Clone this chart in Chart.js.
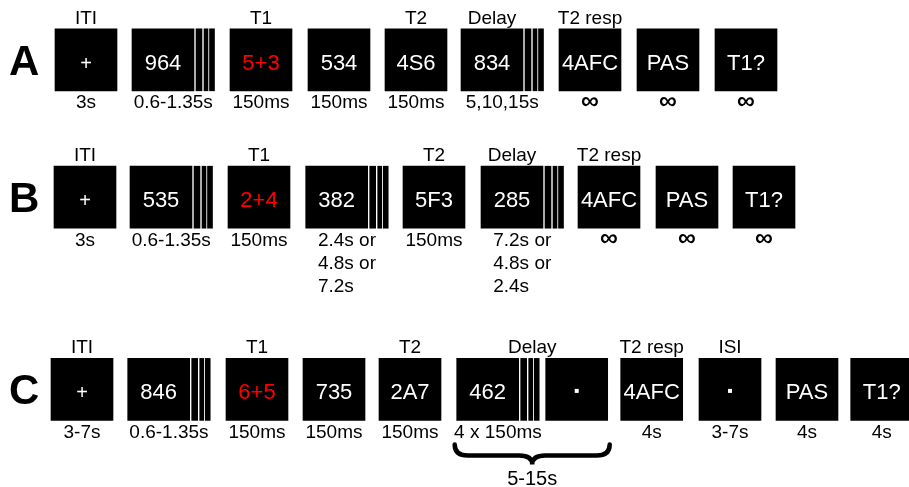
<!DOCTYPE html>
<html>
<head>
<meta charset="utf-8">
<script src="https://cdn.jsdelivr.net/npm/chart.js@4.4.1/dist/chart.umd.min.js"></script>
<style>
  html, body { margin: 0; padding: 0; background: #fff; }
  #wrap { width: 909px; height: 487px; }
</style>
</head>
<body>
<div id="wrap"><canvas id="trial" width="909" height="487"></canvas></div>
<script>
/* ===== DATA ===== */
const ROWS = ["A", "B", "C"];
const ROW_Y = [59.8, 197.2, 389.4];

// row A
const A_START = [55, 132, 230, 308, 385, 461, 559, 637, 715];
const A_TEXT = ["+", "964", "5+3", "534", "4S6", "834", "4AFC", "PAS", "T1?"];
const A_ABOVE = ["ITI", "", "T1", "", "T2", "Delay", "T2 resp", "", ""];
const A_BELOW = ["3s", "0.6-1.35s", "150ms", "150ms", "150ms", "5,10,15s", "∞", "∞", "∞"];
const A_MASKED = [1, 5];

// row B
const B_START = [54, 130, 228, 305.7, 403, 481, 578, 656, 733];
const B_TEXT = ["+", "535", "2+4", "382", "5F3", "285", "4AFC", "PAS", "T1?"];
const B_ABOVE = ["ITI", "", "T1", "", "T2", "Delay", "T2 resp", "", ""];
const B_BELOW = ["3s", "0.6-1.35s", "150ms", "2.4s or\n4.8s or\n7.2s", "150ms",
  "7.2s or\n4.8s or\n2.4s", "∞", "∞", "∞"];
const B_MASKED = [1, 3, 5];

// row C
const C_START = [51, 127.7, 226, 303, 379, 456.7, 545.7, 620.7, 699, 776, 850.7];
const C_TEXT = ["+", "846", "6+5", "735", "2A7", "462", "·", "4AFC", "·", "PAS", "T1?"];
const C_ABOVE = ["ITI", "", "T1", "", "T2", "", "", "T2 resp", "ISI", "", ""];
const C_BELOW = ["3-7s", "0.6-1.35s", "150ms", "150ms", "150ms",
  "4 x 150ms", "", "4s", "3-7s", "4s", "4s"];
const C_MASKED = [1, 5];
const C_DELAY_GROUP = [5, 6];
const C_DELAY_LABEL = "Delay";
const C_DELAY_TOTAL = "5-15s";

const T1_INDEX = 2;

/* ===== LOOK ===== */
const BOX = 62;
const STRIPES = [[2, 8], [10, 14], [15.5, 20.5]];
const STRIPE_END = 20.5;
const FONT = "'Liberation Sans', Arial, sans-serif";

/* ===== BUILD ===== */
function buildRow(r, starts, texts, above, below, masked) {
  return starts.map((s, i) => ({
    x: [s, s + BOX],
    y: ROW_Y[r],
    row: r,
    idx: i,
    text: texts[i],
    above: above[i],
    below: below[i],
    masked: masked.includes(i),
  }));
}

const boxes = [
  ...buildRow(0, A_START, A_TEXT, A_ABOVE, A_BELOW, A_MASKED),
  ...buildRow(1, B_START, B_TEXT, B_ABOVE, B_BELOW, B_MASKED),
  ...buildRow(2, C_START, C_TEXT, C_ABOVE, C_BELOW, C_MASKED),
];

// mask stripes after the masked boxes
const stripes = [];
boxes.filter((b) => b.masked).forEach((b) => {
  STRIPES.forEach(([a, e]) => {
    stripes.push({ x: [b.x[1] + a, b.x[1] + e], y: b.y });
  });
});

/* ===== LABELS PLUGIN ===== */
const labelsPlugin = {
  id: "trialLabels",
  afterDatasetsDraw(chart) {
    const ctx = chart.ctx;
    const meta = chart.getDatasetMeta(0);
    const yScale = chart.scales.y;
    ctx.save();

    // panel letters
    ctx.fillStyle = "#000";
    ctx.font = `bold 42px ${FONT}`;
    ctx.textAlign = "left";
    ctx.textBaseline = "alphabetic";
    ROWS.forEach((r, i) => {
      ctx.fillText(r, 9, yScale.getPixelForValue(ROW_Y[i]) + 15);
    });

    const rects = [];
    meta.data.forEach((el, i) => {
      const p = el.getProps(["x", "y", "base", "height"], true);
      const b = boxes[i];
      const left = Math.min(p.x, p.base);
      const right = Math.max(p.x, p.base);
      const top = p.y - p.height / 2;
      const bottom = p.y + p.height / 2;
      const cx = (left + right) / 2;
      rects.push({ left, right, top, bottom, cx, cy: p.y });

      // content
      if (b.text === "·") {
        ctx.fillStyle = "#fff";
        ctx.fillRect(cx - 2, p.y - 0.5, 4, 4);
      } else {
        ctx.fillStyle = b.idx === T1_INDEX ? "#ff0000" : "#fff";
        ctx.font = b.text === "+" ? `20px ${FONT}` : `22px ${FONT}`;
        ctx.textAlign = "center";
        ctx.fillText(b.text, cx, p.y + 10);
      }

      // title above
      ctx.fillStyle = "#000";
      ctx.font = `19px ${FONT}`;
      if (b.above) ctx.fillText(b.above, cx, top - 5);

      // duration below
      if (b.below) {
        const mid = b.masked ? (left + right + STRIPE_END) / 2 : cx;
        const lines = b.below.split("\n");
        if (b.below === "∞") {
          ctx.font = `bold 25px ${FONT}`;
          ctx.fillText(b.below, mid, bottom + 18);
        } else if (lines.length > 1) {
          const w = Math.max(...lines.map((l) => ctx.measureText(l).width));
          ctx.textAlign = "left";
          lines.forEach((l, k) => ctx.fillText(l, mid - w / 2, bottom + 17.5 + k * 23));
        } else {
          ctx.fillText(b.below, mid, bottom + 17.5);
        }
      }
    });

    // grouped delay in row C, with brace
    const cOffset = A_START.length + B_START.length;
    const g0 = rects[cOffset + C_DELAY_GROUP[0]];
    const g1 = rects[cOffset + C_DELAY_GROUP[1]];
    const gx = (g0.left + g1.right) / 2;
    ctx.fillStyle = "#000";
    ctx.font = `19px ${FONT}`;
    ctx.textAlign = "center";
    ctx.fillText(C_DELAY_LABEL, gx, g0.top - 5);

    const x0 = g0.left - 2;
    const x1 = g1.right + 2;
    const yTop = g0.bottom + 24;
    const yMid = g0.bottom + 35;
    const yTip = g0.bottom + 44;
    ctx.strokeStyle = "#000";
    ctx.lineWidth = 4.5;
    ctx.lineCap = "round";
    ctx.beginPath();
    ctx.moveTo(x0, yTop);
    ctx.quadraticCurveTo(x0, yMid, x0 + 13, yMid);
    ctx.lineTo(gx - 13, yMid);
    ctx.quadraticCurveTo(gx, yMid, gx, yTip);
    ctx.quadraticCurveTo(gx, yMid, gx + 13, yMid);
    ctx.lineTo(x1 - 13, yMid);
    ctx.quadraticCurveTo(x1, yMid, x1, yTop);
    ctx.stroke();

    ctx.font = `20px ${FONT}`;
    ctx.fillText(C_DELAY_TOTAL, gx, g0.bottom + 65);

    ctx.restore();
  },
};

/* ===== CHART ===== */
new Chart(document.getElementById("trial"), {
  type: "bar",
  data: {
    datasets: [
      { data: boxes, backgroundColor: "#000", borderWidth: 0, barThickness: BOX, grouped: false },
      { data: stripes, backgroundColor: "#000", borderWidth: 0, barThickness: BOX, grouped: false },
    ],
  },
  options: {
    indexAxis: "y",
    responsive: false,
    animation: false,
    events: [],
    layout: { padding: 0 },
    scales: {
      x: { type: "linear", min: 0, max: 909, display: false },
      y: { type: "linear", min: 0, max: 487, reverse: true, offset: false, display: false },
    },
    plugins: { legend: { display: false }, tooltip: { enabled: false } },
  },
  plugins: [labelsPlugin],
});
</script>
</body>
</html>
